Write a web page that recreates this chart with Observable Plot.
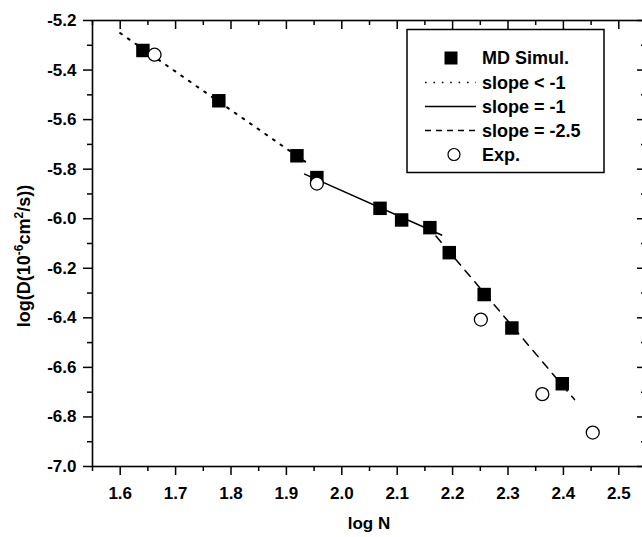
<!DOCTYPE html>
<html><head><meta charset="utf-8">
<script src="https://cdn.jsdelivr.net/npm/d3@7"></script>
<script src="https://cdn.jsdelivr.net/npm/@observablehq/plot@0.6"></script>
<style>
html,body{margin:0;padding:0;background:#fff;}
#chart{width:642px;height:537px;overflow:hidden;}
</style></head><body><div id="chart"></div>
<script>
// ---- data ----
const mdX = [1.641, 1.778, 1.919, 1.955, 2.069, 2.108, 2.159, 2.194, 2.257, 2.307, 2.398];
const mdY = [-5.321, -5.524, -5.746, -5.834, -5.958, -6.005, -6.036, -6.137, -6.306, -6.441, -6.666];
const expX = [1.662, 1.955, 2.251, 2.362, 2.453];
const expY = [-5.338, -5.858, -6.407, -6.708, -6.863];
const fitLessX = [1.600, 1.936];
const fitLessY = [-5.251, -5.773];
const fitOneX = [1.933, 2.180];
const fitOneY = [-5.820, -6.066];
const fitSteepX = [2.170, 2.420];
const fitSteepY = [-6.070, -6.730];
const xMajor = [1.6, 1.7, 1.8, 1.9, 2.0, 2.1, 2.2, 2.3, 2.4, 2.5];
const xMinor = [1.55, 1.65, 1.75, 1.85, 1.95, 2.05, 2.15, 2.25, 2.35, 2.45, 2.55];
const yMajor = [-7.0, -6.8, -6.6, -6.4, -6.2, -6.0, -5.8, -5.6, -5.4, -5.2];
const yMinor = [-6.9, -6.7, -6.5, -6.3, -6.1, -5.9, -5.7, -5.5, -5.3];
const legendLabels = ["MD Simul.", "slope < -1", "slope = -1", "slope = -2.5", "Exp."];
const xTitle = "log N";

// ---- layout ----
const W = 642, H = 537;
const mL = 92, mR = -4, mT = 20, mB = 71;
const plotW = W - mL - mR, plotH = H - mT - mB;
const FONT = "'Liberation Sans', Arial, Helvetica, sans-serif";

const pts = (xs, ys) => xs.map((x, i) => ({x, y: ys[i]}));
const md = pts(mdX, mdY), ex = pts(expX, expY);
const fLess = pts(fitLessX, fitLessY), fOne = pts(fitOneX, fitOneY), fSteep = pts(fitSteepX, fitSteepY);
const fmt = d => d.toFixed(1);
const SW = 1.5;

const chart = Plot.plot({
  width: W, height: H,
  marginLeft: mL, marginRight: mR, marginTop: mT, marginBottom: mB,
  style: {fontFamily: FONT, background: "white", overflow: "hidden"},
  x: {domain: [1.55, 2.55], axis: null},
  y: {domain: [-7.0, -5.2], axis: null},
  marks: [
    // axes
    Plot.axisX(xMajor, {anchor: "bottom", tickSize: 9, tickPadding: 11, strokeWidth: SW,
      tickFormat: fmt, fontSize: 17, fontWeight: "bold", fill: "black", label: null}),
    Plot.ruleX(xMinor, {x: d => d, insetTop: plotH, insetBottom: -5, strokeWidth: SW}),
    Plot.ruleX(xMajor, {x: d => d, insetBottom: plotH - 9, strokeWidth: SW}),
    Plot.ruleX(xMinor, {x: d => d, insetBottom: plotH - 5, strokeWidth: SW}),
    Plot.axisY(yMajor, {anchor: "left", tickSize: 9, tickPadding: 7, strokeWidth: SW,
      tickFormat: fmt, fontSize: 17, fontWeight: "bold", fill: "black", label: null}),
    Plot.ruleY(yMinor, {y: d => d, insetRight: plotW, insetLeft: -5, strokeWidth: SW}),
    Plot.ruleY(yMajor, {y: d => d, insetLeft: plotW - 9, strokeWidth: SW}),
    Plot.ruleY(yMinor, {y: d => d, insetLeft: plotW - 5, strokeWidth: SW}),
    Plot.frame({stroke: "black", strokeWidth: 1.6}),
    // fitted lines
    Plot.line(fLess, {x: "x", y: "y", stroke: "black", strokeWidth: 2, strokeDasharray: "2,7.3"}),
    Plot.line(fOne, {x: "x", y: "y", stroke: "black", strokeWidth: 1.6}),
    Plot.line(fSteep, {x: "x", y: "y", stroke: "black", strokeWidth: 1.5, strokeDasharray: "8,7"}),
    // points
    Plot.dot(md, {x: "x", y: "y", symbol: "square", r: 7.6, fill: "black", stroke: "none"}),
    Plot.dot(ex, {x: "x", y: "y", symbol: "circle", r: 6.5, fill: "white", stroke: "black", strokeWidth: 1.3})
  ]
});
document.getElementById("chart").appendChild(chart);

// ---- titles & legend ----
const svg = d3.select(chart);
svg.append("text")
  .attr("x", (mL + W - mR) / 2).attr("y", 525)
  .attr("text-anchor", "middle").attr("dominant-baseline", "middle")
  .attr("font-family", FONT).attr("font-size", 17).attr("font-weight", "bold")
  .text(xTitle);

const yl = svg.append("text")
  .attr("transform", "translate(30,256) rotate(-90)")
  .attr("text-anchor", "middle")
  .attr("font-family", FONT).attr("font-size", 18).attr("font-weight", "bold");
yl.append("tspan").text("log(D(10");
yl.append("tspan").attr("font-size", 12).attr("dy", -7).text("-6");
yl.append("tspan").attr("dy", 7).text("cm");
yl.append("tspan").attr("font-size", 12).attr("dy", -7).text("2");
yl.append("tspan").attr("dy", 7).text("/s))");

const lg = svg.append("g");
lg.append("rect").attr("x", 407).attr("y", 29.5).attr("width", 197).attr("height", 143)
  .attr("fill", "white").attr("stroke", "black").attr("stroke-width", 1.5);
const rowY = [58, 82.5, 106.5, 130.5, 154.5];
const tx = 482;
lg.append("rect").attr("x", 451 - 6.5).attr("y", rowY[0] - 6.5).attr("width", 13).attr("height", 13).attr("fill", "black");
lg.append("line").attr("x1", 425).attr("x2", 476).attr("y1", rowY[1]).attr("y2", rowY[1])
  .attr("stroke", "black").attr("stroke-width", 1.6).attr("stroke-dasharray", "1.6,6.8");
lg.append("line").attr("x1", 425).attr("x2", 476).attr("y1", rowY[2]).attr("y2", rowY[2])
  .attr("stroke", "black").attr("stroke-width", 1.5);
lg.append("line").attr("x1", 425).attr("x2", 476).attr("y1", rowY[3]).attr("y2", rowY[3])
  .attr("stroke", "black").attr("stroke-width", 1.3).attr("stroke-dasharray", "6,5");
lg.append("circle").attr("cx", 454).attr("cy", rowY[4]).attr("r", 6).attr("fill", "white")
  .attr("stroke", "black").attr("stroke-width", 1.2);
legendLabels.forEach((t, i) => {
  lg.append("text").attr("x", tx).attr("y", rowY[i]).attr("dominant-baseline", "central")
    .attr("text-anchor", "start")
    .attr("font-family", FONT).attr("font-size", 18).attr("font-weight", "bold").text(t);
});
</script></body></html>
